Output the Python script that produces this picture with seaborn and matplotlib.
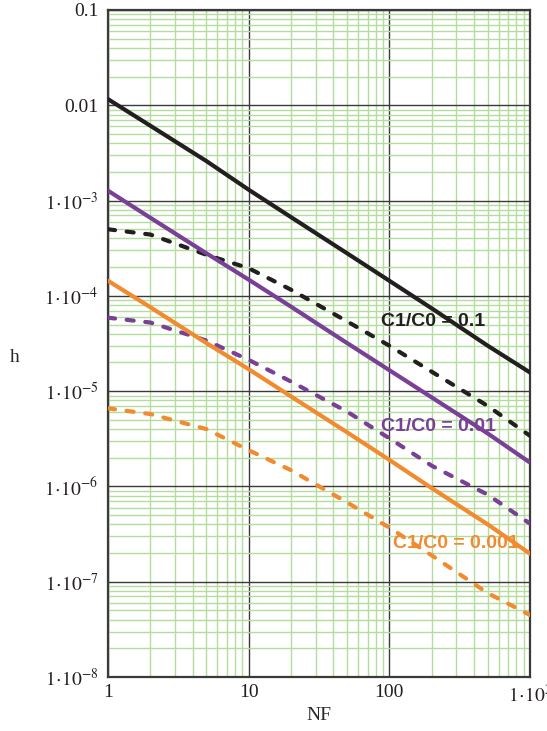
import numpy as np
import pandas as pd
import matplotlib
matplotlib.use('Agg')
import matplotlib.pyplot as plt
import matplotlib.ticker as mticker
import seaborn as sns

# --- DATA ---
nf = [1, 2, 5, 10, 20, 50, 100, 200, 500, 1000]

h_01_solid    = [1.16e-2, 6.1e-3, 2.6e-3, 1.30e-3, 6.7e-4, 2.8e-4, 1.44e-4, 7.4e-5, 3.0e-5, 1.57e-5]
h_01_dashed   = [5.0e-4, 4.4e-4, 2.7e-4, 1.95e-4, 1.16e-4, 5.4e-5, 3.0e-5, 1.6e-5, 7.0e-6, 3.4e-6]
h_001_solid   = [1.27e-3, 6.6e-4, 2.8e-4, 1.48e-4, 7.7e-5, 3.2e-5, 1.66e-5, 8.6e-6, 3.6e-6, 1.78e-6]
h_001_dashed  = [5.9e-5, 5.25e-5, 3.4e-5, 2.13e-5, 1.26e-5, 6.1e-6, 3.2e-6, 1.65e-6, 8.2e-7, 4.07e-7]
h_0001_solid  = [1.44e-4, 7.6e-5, 3.2e-5, 1.7e-5, 8.8e-6, 3.7e-6, 1.9e-6, 9.6e-7, 4.0e-7, 1.97e-7]
h_0001_dashed = [6.6e-6, 5.75e-6, 4.0e-6, 2.4e-6, 1.48e-6, 6.8e-7, 3.7e-7, 1.89e-7, 7.6e-8, 4.47e-8]

ratio_labels = ['C1/C0 = 0.1', 'C1/C0 = 0.01', 'C1/C0 = 0.001']
x_ticks = [1, 10, 100, 1000]
x_tick_labels = ['1', '10', '100', r'$1\!\cdot\!10^{3}$']
y_ticks = [1e-8, 1e-7, 1e-6, 1e-5, 1e-4, 1e-3, 1e-2, 1e-1]
y_tick_labels = [r'$1\!\cdot\!10^{-8}$', r'$1\!\cdot\!10^{-7}$', r'$1\!\cdot\!10^{-6}$',
                 r'$1\!\cdot\!10^{-5}$', r'$1\!\cdot\!10^{-4}$', r'$1\!\cdot\!10^{-3}$',
                 '0.01', '0.1']

# --- STYLE ---
sns.set_style('white')
plt.rcParams['font.family'] = ['Liberation Serif', 'DejaVu Serif']
plt.rcParams['mathtext.fontset'] = 'stix'

BLACK = '#231f20'
PURPLE = '#7a3f97'
ORANGE = '#f28a30'

rows = []
series = [
    (h_01_solid, ratio_labels[0], 'solid'),
    (h_01_dashed, ratio_labels[0], 'dashed'),
    (h_001_solid, ratio_labels[1], 'solid'),
    (h_001_dashed, ratio_labels[1], 'dashed'),
    (h_0001_solid, ratio_labels[2], 'solid'),
    (h_0001_dashed, ratio_labels[2], 'dashed'),
]
for vals, ratio, kind in series:
    for x, y in zip(nf, vals):
        rows.append({'NF': x, 'h': y, 'ratio': ratio, 'kind': kind})
df = pd.DataFrame(rows)

fig = plt.figure(figsize=(5.47, 7.31), dpi=100)
ax = fig.add_axes([108 / 547, 1 - 677 / 731, 422 / 547, 667 / 731])

palette = {ratio_labels[0]: BLACK, ratio_labels[1]: PURPLE, ratio_labels[2]: ORANGE}
sns.lineplot(data=df, x='NF', y='h', hue='ratio', style='kind', palette=palette,
             dashes={'solid': '', 'dashed': (1.7, 2.8)}, linewidth=3.0,
             dash_capstyle='round', legend=False, ax=ax, zorder=5)

ax.set_xscale('log')
ax.set_yscale('log')
ax.set_xlim(1, 1000)
ax.set_ylim(1e-8, 0.1)

ax.set_xticks(x_ticks)
ax.set_xticklabels(x_tick_labels)
ax.set_yticks(y_ticks)
ax.set_yticklabels(y_tick_labels)
ax.xaxis.set_minor_locator(mticker.LogLocator(base=10, subs=np.arange(2, 10)))
ax.yaxis.set_minor_locator(mticker.LogLocator(base=10, subs=np.arange(2, 10), numticks=20))
ax.xaxis.set_minor_formatter(mticker.NullFormatter())
ax.yaxis.set_minor_formatter(mticker.NullFormatter())
ax.tick_params(which='both', length=0, labelsize=14, colors='#231f20')
ax.tick_params(axis='y', pad=7)
ax.tick_params(axis='x', pad=5)

ax.grid(which='minor', color='#b2dd9c', linewidth=1.0)
ax.grid(which='major', color='#3a3a3a', linewidth=1.0)
ax.set_axisbelow(True)
for s in ax.spines.values():
    s.set_color('#3a3a3a')
    s.set_linewidth(1.6)

ax.set_xlabel('NF', fontsize=14, labelpad=1)
ax.set_ylabel('')
fig.text(15 / 547, 1 - 357 / 731, 'h', fontsize=14, ha='center', va='center')

# curve labels
lbl_font = dict(family=['Liberation Sans', 'DejaVu Sans'], fontweight='bold', fontsize=14,
                va='center', ha='left', zorder=3)
ax.text(87.5, 5.4e-5, ratio_labels[0], color=BLACK, **lbl_font)
ax.text(87.5, 4.3e-6, ratio_labels[1], color=PURPLE, **lbl_font)
ax.text(107, 2.52e-7, ratio_labels[2], color=ORANGE, **lbl_font)

fig.savefig('out.png', dpi=100)
